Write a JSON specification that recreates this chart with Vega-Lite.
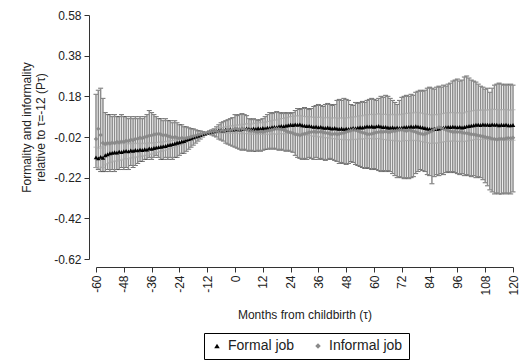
{
"$schema":"https://vega.github.io/schema/vega-lite/v6.json",
"width":417,"height":244,
"autosize":"none",
"padding":{"left":96,"top":15,"right":9,"bottom":103},
"background":"white",
"config":{"view":{"stroke":null},"font":"Liberation Sans",
"axis":{"domainColor":"#333","tickColor":"#333","labelColor":"#222","titleColor":"#222","labelFontSize":12,"titleFontSize":12,"titleFontWeight":"normal","grid":false,"tickSize":5,"labelPadding":3},
"legend":{"symbolStrokeWidth":0}},
"data":{"values":[
{"m":-60,"f":-0.12,"fl":-0.17,"fh":-0.07,"i":-0.03,"il":-0.17,"ih":0.19},
{"m":-59,"f":-0.125,"fl":-0.175,"fh":-0.075,"i":0.02,"il":-0.18,"ih":0.21},
{"m":-58,"f":-0.118,"fl":-0.168,"fh":-0.068,"i":-0.01,"il":-0.19,"ih":0.22},
{"m":-57,"f":-0.122,"fl":-0.17,"fh":-0.074,"i":-0.05,"il":-0.19,"ih":0.17},
{"m":-56,"f":-0.11,"fl":-0.157,"fh":-0.063,"i":-0.055,"il":-0.19,"ih":0.1},
{"m":-55,"f":-0.105,"fl":-0.151,"fh":-0.059,"i":-0.05,"il":-0.18,"ih":0.09},
{"m":-54,"f":-0.1,"fl":-0.145,"fh":-0.055,"i":-0.052,"il":-0.19,"ih":0.09},
{"m":-53,"f":-0.098,"fl":-0.142,"fh":-0.054,"i":-0.048,"il":-0.18,"ih":0.08},
{"m":-52,"f":-0.095,"fl":-0.138,"fh":-0.052,"i":-0.05,"il":-0.19,"ih":0.09},
{"m":-51,"f":-0.097,"fl":-0.139,"fh":-0.055,"i":-0.045,"il":-0.18,"ih":0.08},
{"m":-50,"f":-0.092,"fl":-0.133,"fh":-0.051,"i":-0.047,"il":-0.18,"ih":0.08},
{"m":-49,"f":-0.094,"fl":-0.134,"fh":-0.054,"i":-0.042,"il":-0.17,"ih":0.09},
{"m":-48,"f":-0.09,"fl":-0.129,"fh":-0.051,"i":-0.044,"il":-0.18,"ih":0.08},
{"m":-47,"f":-0.088,"fl":-0.126,"fh":-0.05,"i":-0.038,"il":-0.17,"ih":0.08},
{"m":-46,"f":-0.091,"fl":-0.128,"fh":-0.054,"i":-0.04,"il":-0.18,"ih":0.07},
{"m":-45,"f":-0.086,"fl":-0.122,"fh":-0.05,"i":-0.034,"il":-0.16,"ih":0.08},
{"m":-44,"f":-0.088,"fl":-0.123,"fh":-0.053,"i":-0.036,"il":-0.17,"ih":0.07},
{"m":-43,"f":-0.084,"fl":-0.118,"fh":-0.05,"i":-0.03,"il":-0.16,"ih":0.08},
{"m":-42,"f":-0.086,"fl":-0.119,"fh":-0.053,"i":-0.028,"il":-0.15,"ih":0.07},
{"m":-41,"f":-0.082,"fl":-0.114,"fh":-0.05,"i":-0.024,"il":-0.14,"ih":0.08},
{"m":-40,"f":-0.084,"fl":-0.115,"fh":-0.053,"i":-0.026,"il":-0.14,"ih":0.07},
{"m":-39,"f":-0.08,"fl":-0.11,"fh":-0.05,"i":-0.02,"il":-0.13,"ih":0.08},
{"m":-38,"f":-0.082,"fl":-0.111,"fh":-0.053,"i":-0.018,"il":-0.13,"ih":0.09},
{"m":-37,"f":-0.076,"fl":-0.104,"fh":-0.048,"i":-0.014,"il":-0.12,"ih":0.11},
{"m":-36,"f":-0.078,"fl":-0.105,"fh":-0.051,"i":-0.012,"il":-0.13,"ih":0.1},
{"m":-35,"f":-0.074,"fl":-0.1,"fh":-0.048,"i":-0.008,"il":-0.12,"ih":0.09},
{"m":-34,"f":-0.072,"fl":-0.097,"fh":-0.047,"i":-0.006,"il":-0.11,"ih":0.08},
{"m":-33,"f":-0.07,"fl":-0.094,"fh":-0.046,"i":-0.004,"il":-0.12,"ih":0.07},
{"m":-32,"f":-0.068,"fl":-0.091,"fh":-0.045,"i":-0.008,"il":-0.13,"ih":0.07},
{"m":-31,"f":-0.066,"fl":-0.088,"fh":-0.044,"i":-0.012,"il":-0.13,"ih":0.06},
{"m":-30,"f":-0.064,"fl":-0.085,"fh":-0.043,"i":-0.01,"il":-0.12,"ih":0.07},
{"m":-29,"f":-0.06,"fl":-0.08,"fh":-0.04,"i":-0.016,"il":-0.13,"ih":0.06},
{"m":-28,"f":-0.058,"fl":-0.077,"fh":-0.039,"i":-0.018,"il":-0.12,"ih":0.06},
{"m":-27,"f":-0.055,"fl":-0.073,"fh":-0.037,"i":-0.022,"il":-0.13,"ih":0.05},
{"m":-26,"f":-0.052,"fl":-0.069,"fh":-0.035,"i":-0.02,"il":-0.12,"ih":0.06},
{"m":-25,"f":-0.048,"fl":-0.064,"fh":-0.032,"i":-0.024,"il":-0.12,"ih":0.05},
{"m":-24,"f":-0.046,"fl":-0.061,"fh":-0.031,"i":-0.026,"il":-0.11,"ih":0.04},
{"m":-23,"f":-0.042,"fl":-0.056,"fh":-0.028,"i":-0.024,"il":-0.1,"ih":0.04},
{"m":-22,"f":-0.04,"fl":-0.053,"fh":-0.027,"i":-0.028,"il":-0.1,"ih":0.03},
{"m":-21,"f":-0.034,"fl":-0.046,"fh":-0.022,"i":-0.025,"il":-0.09,"ih":0.03},
{"m":-20,"f":-0.03,"fl":-0.041,"fh":-0.019,"i":-0.022,"il":-0.08,"ih":0.025},
{"m":-19,"f":-0.026,"fl":-0.036,"fh":-0.016,"i":-0.02,"il":-0.07,"ih":0.02},
{"m":-18,"f":-0.022,"fl":-0.031,"fh":-0.013,"i":-0.016,"il":-0.06,"ih":0.02},
{"m":-17,"f":-0.018,"fl":-0.026,"fh":-0.01,"i":-0.014,"il":-0.05,"ih":0.015},
{"m":-16,"f":-0.014,"fl":-0.021,"fh":-0.007,"i":-0.01,"il":-0.04,"ih":0.01},
{"m":-15,"f":-0.01,"fl":-0.016,"fh":-0.004,"i":-0.008,"il":-0.03,"ih":0.01},
{"m":-14,"f":-0.006,"fl":-0.011,"fh":-0.001,"i":-0.005,"il":-0.02,"ih":0.005},
{"m":-13,"f":-0.003,"fl":-0.006,"fh":0,"i":-0.002,"il":-0.01,"ih":0.004},
{"m":-12,"f":0,"fl":0,"fh":0,"i":0,"il":0,"ih":0},
{"m":-11,"f":0.004,"fl":0,"fh":0.008,"i":0.002,"il":-0.006,"ih":0.01},
{"m":-10,"f":0.006,"fl":0,"fh":0.012,"i":0.004,"il":-0.01,"ih":0.015},
{"m":-9,"f":0.008,"fl":0,"fh":0.016,"i":0.006,"il":-0.015,"ih":0.02},
{"m":-8,"f":0.01,"fl":0,"fh":0.02,"i":0.008,"il":-0.02,"ih":0.03},
{"m":-7,"f":0.012,"fl":0,"fh":0.024,"i":0.006,"il":-0.03,"ih":0.04},
{"m":-6,"f":0.014,"fl":0.001,"fh":0.027,"i":0.01,"il":-0.035,"ih":0.05},
{"m":-5,"f":0.012,"fl":-0.002,"fh":0.026,"i":0.012,"il":-0.04,"ih":0.055},
{"m":-4,"f":0.016,"fl":0.001,"fh":0.031,"i":0.01,"il":-0.05,"ih":0.06},
{"m":-3,"f":0.014,"fl":-0.002,"fh":0.03,"i":0.014,"il":-0.055,"ih":0.065},
{"m":-2,"f":0.018,"fl":0.001,"fh":0.035,"i":0.012,"il":-0.06,"ih":0.07},
{"m":-1,"f":0.016,"fl":-0.002,"fh":0.034,"i":0.016,"il":-0.065,"ih":0.075},
{"m":0,"f":0.018,"fl":-0.001,"fh":0.037,"i":0.018,"il":-0.07,"ih":0.09},
{"m":1,"f":0.02,"fl":0,"fh":0.04,"i":0.02,"il":-0.075,"ih":0.085},
{"m":2,"f":0.017,"fl":-0.004,"fh":0.038,"i":0.017,"il":-0.08,"ih":0.09},
{"m":3,"f":0.021,"fl":-0.001,"fh":0.043,"i":0.021,"il":-0.085,"ih":0.095},
{"m":4,"f":0.019,"fl":-0.004,"fh":0.042,"i":0.018,"il":-0.08,"ih":0.09},
{"m":5,"f":0.022,"fl":-0.002,"fh":0.046,"i":0.015,"il":-0.085,"ih":0.085},
{"m":6,"f":0.02,"fl":-0.004,"fh":0.044,"i":0.012,"il":-0.09,"ih":0.07},
{"m":7,"f":0.018,"fl":-0.007,"fh":0.043,"i":0.01,"il":-0.085,"ih":0.065},
{"m":8,"f":0.022,"fl":-0.004,"fh":0.048,"i":0.008,"il":-0.09,"ih":0.07},
{"m":9,"f":0.02,"fl":-0.007,"fh":0.047,"i":0.006,"il":-0.09,"ih":0.065},
{"m":10,"f":0.023,"fl":-0.005,"fh":0.051,"i":0.004,"il":-0.085,"ih":0.06},
{"m":11,"f":0.021,"fl":-0.007,"fh":0.049,"i":0.006,"il":-0.09,"ih":0.065},
{"m":12,"f":0.024,"fl":-0.005,"fh":0.053,"i":0.005,"il":-0.085,"ih":0.07},
{"m":13,"f":0.022,"fl":-0.008,"fh":0.052,"i":0.008,"il":-0.08,"ih":0.08},
{"m":14,"f":0.026,"fl":-0.005,"fh":0.057,"i":0.01,"il":-0.08,"ih":0.09},
{"m":15,"f":0.024,"fl":-0.008,"fh":0.056,"i":0.013,"il":-0.075,"ih":0.1},
{"m":16,"f":0.028,"fl":-0.005,"fh":0.061,"i":0.016,"il":-0.08,"ih":0.095},
{"m":17,"f":0.03,"fl":-0.004,"fh":0.064,"i":0.018,"il":-0.075,"ih":0.1},
{"m":18,"f":0.028,"fl":-0.007,"fh":0.063,"i":0.02,"il":-0.08,"ih":0.105},
{"m":19,"f":0.032,"fl":-0.004,"fh":0.068,"i":0.021,"il":-0.085,"ih":0.1},
{"m":20,"f":0.034,"fl":-0.003,"fh":0.071,"i":0.018,"il":-0.08,"ih":0.095},
{"m":21,"f":0.033,"fl":-0.005,"fh":0.071,"i":0.015,"il":-0.085,"ih":0.1},
{"m":22,"f":0.036,"fl":-0.003,"fh":0.075,"i":0.01,"il":-0.09,"ih":0.095},
{"m":23,"f":0.038,"fl":-0.002,"fh":0.078,"i":0.006,"il":-0.085,"ih":0.1},
{"m":24,"f":0.04,"fl":-0.001,"fh":0.081,"i":0.002,"il":-0.09,"ih":0.095},
{"m":25,"f":0.039,"fl":-0.003,"fh":0.081,"i":-0.002,"il":-0.095,"ih":0.1},
{"m":26,"f":0.042,"fl":-0.001,"fh":0.085,"i":-0.006,"il":-0.11,"ih":0.11},
{"m":27,"f":0.04,"fl":-0.003,"fh":0.083,"i":-0.009,"il":-0.12,"ih":0.12},
{"m":28,"f":0.042,"fl":-0.002,"fh":0.086,"i":-0.012,"il":-0.125,"ih":0.115},
{"m":29,"f":0.038,"fl":-0.006,"fh":0.082,"i":-0.008,"il":-0.13,"ih":0.12},
{"m":30,"f":0.036,"fl":-0.009,"fh":0.081,"i":-0.004,"il":-0.125,"ih":0.125},
{"m":31,"f":0.034,"fl":-0.011,"fh":0.079,"i":-0.001,"il":-0.13,"ih":0.12},
{"m":32,"f":0.035,"fl":-0.011,"fh":0.081,"i":0.002,"il":-0.12,"ih":0.115},
{"m":33,"f":0.032,"fl":-0.014,"fh":0.078,"i":0.004,"il":-0.125,"ih":0.12},
{"m":34,"f":0.03,"fl":-0.017,"fh":0.077,"i":0.006,"il":-0.13,"ih":0.13},
{"m":35,"f":0.031,"fl":-0.016,"fh":0.078,"i":0.005,"il":-0.12,"ih":0.135},
{"m":36,"f":0.028,"fl":-0.02,"fh":0.076,"i":0.004,"il":-0.13,"ih":0.14},
{"m":37,"f":0.03,"fl":-0.018,"fh":0.078,"i":0.006,"il":-0.125,"ih":0.135},
{"m":38,"f":0.026,"fl":-0.023,"fh":0.075,"i":0.003,"il":-0.13,"ih":0.13},
{"m":39,"f":0.025,"fl":-0.024,"fh":0.074,"i":0.001,"il":-0.135,"ih":0.14},
{"m":40,"f":0.027,"fl":-0.023,"fh":0.077,"i":-0.002,"il":-0.13,"ih":0.145},
{"m":41,"f":0.024,"fl":-0.026,"fh":0.074,"i":-0.004,"il":-0.125,"ih":0.14},
{"m":42,"f":0.022,"fl":-0.029,"fh":0.073,"i":-0.006,"il":-0.13,"ih":0.135},
{"m":43,"f":0.024,"fl":-0.027,"fh":0.075,"i":-0.004,"il":-0.135,"ih":0.14},
{"m":44,"f":0.021,"fl":-0.031,"fh":0.073,"i":-0.007,"il":-0.14,"ih":0.16},
{"m":45,"f":0.02,"fl":-0.032,"fh":0.072,"i":-0.005,"il":-0.15,"ih":0.165},
{"m":46,"f":0.022,"fl":-0.031,"fh":0.075,"i":-0.002,"il":-0.145,"ih":0.16},
{"m":47,"f":0.019,"fl":-0.034,"fh":0.072,"i":0.001,"il":-0.15,"ih":0.17},
{"m":48,"f":0.021,"fl":-0.033,"fh":0.075,"i":0.004,"il":-0.155,"ih":0.165},
{"m":49,"f":0.02,"fl":-0.034,"fh":0.074,"i":0.008,"il":-0.15,"ih":0.16},
{"m":50,"f":0.022,"fl":-0.033,"fh":0.077,"i":0.012,"il":-0.14,"ih":0.14},
{"m":51,"f":0.024,"fl":-0.031,"fh":0.079,"i":0.015,"il":-0.145,"ih":0.135},
{"m":52,"f":0.023,"fl":-0.033,"fh":0.079,"i":0.013,"il":-0.155,"ih":0.15},
{"m":53,"f":0.026,"fl":-0.03,"fh":0.082,"i":0.01,"il":-0.16,"ih":0.145},
{"m":54,"f":0.028,"fl":-0.029,"fh":0.085,"i":0.006,"il":-0.165,"ih":0.15},
{"m":55,"f":0.027,"fl":-0.03,"fh":0.084,"i":0.002,"il":-0.17,"ih":0.155},
{"m":56,"f":0.03,"fl":-0.028,"fh":0.088,"i":-0.002,"il":-0.175,"ih":0.15},
{"m":57,"f":0.032,"fl":-0.026,"fh":0.09,"i":-0.005,"il":-0.17,"ih":0.16},
{"m":58,"f":0.031,"fl":-0.028,"fh":0.09,"i":-0.006,"il":-0.175,"ih":0.165},
{"m":59,"f":0.033,"fl":-0.026,"fh":0.092,"i":-0.004,"il":-0.18,"ih":0.17},
{"m":60,"f":0.03,"fl":-0.03,"fh":0.09,"i":-0.001,"il":-0.175,"ih":0.165},
{"m":61,"f":0.032,"fl":-0.028,"fh":0.092,"i":0.002,"il":-0.18,"ih":0.16},
{"m":62,"f":0.034,"fl":-0.027,"fh":0.095,"i":0.004,"il":-0.185,"ih":0.17},
{"m":63,"f":0.031,"fl":-0.03,"fh":0.092,"i":0.006,"il":-0.19,"ih":0.18},
{"m":64,"f":0.029,"fl":-0.033,"fh":0.091,"i":0.005,"il":-0.185,"ih":0.175},
{"m":65,"f":0.03,"fl":-0.032,"fh":0.092,"i":0.007,"il":-0.19,"ih":0.185},
{"m":66,"f":0.027,"fl":-0.036,"fh":0.09,"i":0.004,"il":-0.185,"ih":0.18},
{"m":67,"f":0.026,"fl":-0.037,"fh":0.089,"i":0.005,"il":-0.19,"ih":0.17},
{"m":68,"f":0.028,"fl":-0.036,"fh":0.092,"i":0.008,"il":-0.2,"ih":0.16},
{"m":69,"f":0.025,"fl":-0.039,"fh":0.089,"i":0.01,"il":-0.21,"ih":0.15},
{"m":70,"f":0.027,"fl":-0.038,"fh":0.092,"i":0.012,"il":-0.22,"ih":0.14},
{"m":71,"f":0.024,"fl":-0.041,"fh":0.089,"i":0.014,"il":-0.215,"ih":0.16},
{"m":72,"f":0.026,"fl":-0.04,"fh":0.092,"i":0.016,"il":-0.22,"ih":0.175},
{"m":73,"f":0.028,"fl":-0.038,"fh":0.094,"i":0.013,"il":-0.225,"ih":0.18},
{"m":74,"f":0.03,"fl":-0.037,"fh":0.097,"i":0.01,"il":-0.22,"ih":0.185},
{"m":75,"f":0.029,"fl":-0.038,"fh":0.096,"i":0.015,"il":-0.225,"ih":0.18},
{"m":76,"f":0.032,"fl":-0.036,"fh":0.1,"i":0.012,"il":-0.22,"ih":0.19},
{"m":77,"f":0.03,"fl":-0.038,"fh":0.098,"i":0.008,"il":-0.215,"ih":0.185},
{"m":78,"f":0.033,"fl":-0.036,"fh":0.102,"i":0.004,"il":-0.2,"ih":0.2},
{"m":79,"f":0.031,"fl":-0.038,"fh":0.1,"i":0,"il":-0.19,"ih":0.205},
{"m":80,"f":0.029,"fl":-0.041,"fh":0.099,"i":-0.003,"il":-0.18,"ih":0.21},
{"m":81,"f":0.027,"fl":-0.043,"fh":0.097,"i":-0.006,"il":-0.185,"ih":0.205},
{"m":82,"f":0.024,"fl":-0.046,"fh":0.094,"i":-0.005,"il":-0.19,"ih":0.21},
{"m":83,"f":0.022,"fl":-0.048,"fh":0.092,"i":-0.002,"il":-0.205,"ih":0.22},
{"m":84,"f":0.02,"fl":-0.05,"fh":0.09,"i":0.004,"il":-0.21,"ih":0.225},
{"m":85,"f":0.018,"fl":-0.052,"fh":0.088,"i":0.01,"il":-0.25,"ih":0.22},
{"m":86,"f":0.021,"fl":-0.049,"fh":0.091,"i":0.016,"il":-0.215,"ih":0.215},
{"m":87,"f":0.019,"fl":-0.051,"fh":0.089,"i":0.022,"il":-0.205,"ih":0.225},
{"m":88,"f":0.022,"fl":-0.048,"fh":0.092,"i":0.028,"il":-0.21,"ih":0.23},
{"m":89,"f":0.024,"fl":-0.046,"fh":0.094,"i":0.024,"il":-0.2,"ih":0.225},
{"m":90,"f":0.026,"fl":-0.044,"fh":0.096,"i":0.02,"il":-0.205,"ih":0.235},
{"m":91,"f":0.028,"fl":-0.042,"fh":0.098,"i":0.016,"il":-0.195,"ih":0.23},
{"m":92,"f":0.03,"fl":-0.04,"fh":0.1,"i":0.012,"il":-0.19,"ih":0.24},
{"m":93,"f":0.029,"fl":-0.041,"fh":0.099,"i":0.008,"il":-0.195,"ih":0.245},
{"m":94,"f":0.031,"fl":-0.039,"fh":0.101,"i":0.005,"il":-0.19,"ih":0.255},
{"m":95,"f":0.03,"fl":-0.04,"fh":0.1,"i":0.006,"il":-0.195,"ih":0.26},
{"m":96,"f":0.028,"fl":-0.042,"fh":0.098,"i":0.004,"il":-0.2,"ih":0.265},
{"m":97,"f":0.03,"fl":-0.04,"fh":0.1,"i":0.005,"il":-0.205,"ih":0.255},
{"m":98,"f":0.027,"fl":-0.043,"fh":0.097,"i":0.002,"il":-0.2,"ih":0.26},
{"m":99,"f":0.029,"fl":-0.041,"fh":0.099,"i":0,"il":-0.21,"ih":0.275},
{"m":100,"f":0.032,"fl":-0.04,"fh":0.104,"i":-0.002,"il":-0.205,"ih":0.28},
{"m":101,"f":0.034,"fl":-0.038,"fh":0.106,"i":-0.004,"il":-0.21,"ih":0.27},
{"m":102,"f":0.036,"fl":-0.036,"fh":0.108,"i":-0.006,"il":-0.215,"ih":0.26},
{"m":103,"f":0.038,"fl":-0.034,"fh":0.11,"i":-0.008,"il":-0.21,"ih":0.255},
{"m":104,"f":0.04,"fl":-0.032,"fh":0.112,"i":-0.01,"il":-0.22,"ih":0.25},
{"m":105,"f":0.041,"fl":-0.031,"fh":0.113,"i":-0.012,"il":-0.215,"ih":0.24},
{"m":106,"f":0.039,"fl":-0.033,"fh":0.111,"i":-0.015,"il":-0.22,"ih":0.23},
{"m":107,"f":0.042,"fl":-0.03,"fh":0.114,"i":-0.018,"il":-0.23,"ih":0.225},
{"m":108,"f":0.04,"fl":-0.032,"fh":0.112,"i":-0.02,"il":-0.245,"ih":0.215},
{"m":109,"f":0.041,"fl":-0.031,"fh":0.113,"i":-0.023,"il":-0.26,"ih":0.22},
{"m":110,"f":0.039,"fl":-0.036,"fh":0.114,"i":-0.025,"il":-0.28,"ih":0.2},
{"m":111,"f":0.042,"fl":-0.033,"fh":0.117,"i":-0.028,"il":-0.29,"ih":0.22},
{"m":112,"f":0.04,"fl":-0.035,"fh":0.115,"i":-0.03,"il":-0.3,"ih":0.235},
{"m":113,"f":0.041,"fl":-0.034,"fh":0.116,"i":-0.032,"il":-0.295,"ih":0.24},
{"m":114,"f":0.038,"fl":-0.037,"fh":0.113,"i":-0.03,"il":-0.3,"ih":0.245},
{"m":115,"f":0.04,"fl":-0.035,"fh":0.115,"i":-0.028,"il":-0.3,"ih":0.24},
{"m":116,"f":0.039,"fl":-0.036,"fh":0.114,"i":-0.03,"il":-0.295,"ih":0.235},
{"m":117,"f":0.041,"fl":-0.034,"fh":0.116,"i":-0.027,"il":-0.3,"ih":0.24},
{"m":118,"f":0.038,"fl":-0.037,"fh":0.113,"i":-0.025,"il":-0.295,"ih":0.235},
{"m":119,"f":0.037,"fl":-0.038,"fh":0.112,"i":-0.026,"il":-0.3,"ih":0.24},
{"m":120,"f":0.039,"fl":-0.036,"fh":0.114,"i":-0.024,"il":-0.29,"ih":0.235}
]},
"encoding":{"x":{"field":"m","type":"quantitative","scale":{"domain":[-60,120],"nice":false,"zero":false},
"axis":{"values":[-60,-48,-36,-24,-12,0,12,24,36,48,60,72,84,96,108,120],"labelExpr":"replace(format(datum.value,'d'),'\u2212','-')","labelAngle":-90,"offset":8,"title":"Months from childbirth (τ)","titlePadding":14}}},
"layer":[
{"mark":{"type":"errorbar","ticks":{"color":"#333333"},"rule":{"color":"#8c8c8c","strokeWidth":1.5},"size":5},
 "encoding":{"y":{"field":"il","type":"quantitative","title":["Formality and informality","relative to τ=-12 (Pτ)"],"scale":{"domain":[-0.62,0.58],"nice":false,"zero":false},
 "axis":{"values":[-0.62,-0.42,-0.22,-0.02,0.18,0.38,0.58],"labelExpr":"replace(format(datum.value,'.2f'),'\u2212','-')","offset":7,"titlePadding":6,"titleY":112}},"y2":{"field":"ih"}}},
{"mark":{"type":"errorbar","ticks":{"color":"#a8a8a8"},"rule":{"color":"#a8a8a8"},"size":5},
 "encoding":{"y":{"field":"fl","type":"quantitative","title":["Formality and informality","relative to τ=-12 (Pτ)"]},"y2":{"field":"fh"}}},
{"transform":[{"fold":["f","i"],"as":["s","v"]}],
 "mark":{"type":"point","filled":true,"opacity":1,"size":20},
 "encoding":{"y":{"field":"v","type":"quantitative","title":["Formality and informality","relative to τ=-12 (Pτ)"]},
 "shape":{"field":"s","type":"nominal","scale":{"domain":["f","i"],"range":["triangle-up","diamond"]},
  "legend":{"orient":"none","legendX":108,"legendY":318,"direction":"horizontal","title":null,"strokeColor":"#000","padding":6,"labelFontSize":14,"labelColor":"#222","symbolSize":30,"columnPadding":16,"labelExpr":"datum.value == 'f' ? 'Formal job' : 'Informal job'"}},
 "color":{"field":"s","type":"nominal","scale":{"domain":["f","i"],"range":["#000000","#8a8a8a"]},
  "legend":{"orient":"none","legendX":108,"legendY":318,"direction":"horizontal","title":null,"strokeColor":"#000","padding":6,"labelFontSize":14,"labelColor":"#222","symbolSize":30,"columnPadding":16,"labelExpr":"datum.value == 'f' ? 'Formal job' : 'Informal job'"}}}}
]
}
